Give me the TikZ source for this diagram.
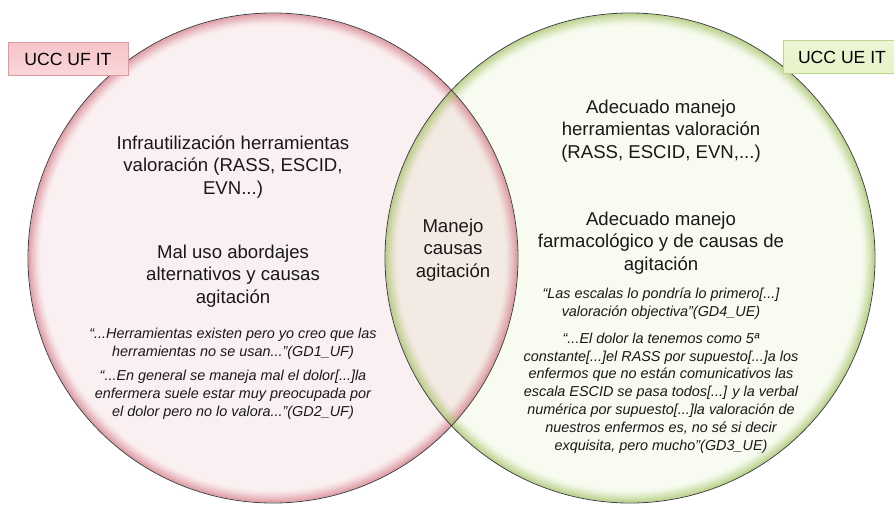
\documentclass[tikz,border=0pt]{standalone}
\usepackage{fontspec}
\setmainfont{Liberation Sans}
\begin{document}
\begin{tikzpicture}[x=1pt,y=-1pt]
\definecolor{lfill}{HTML}{FBF0F1}
\definecolor{rfill}{HTML}{F8FBF0}
\definecolor{lensfill}{HTML}{F4EAE4}
\definecolor{lrim}{HTML}{D47A86}
\definecolor{rrim}{HTML}{A2C262}
\definecolor{outl}{HTML}{404040}
\tikzset{
  maintext/.style={align=center, font=\fontsize{18.6}{22.6}\selectfont, text=black!90},
  quotetext/.style={align=center, font=\fontsize{14.4}{17.8}\selectfont\itshape, text=black!90},
  ucclabel/.style={draw, line width=0.8pt, minimum height=33pt, inner xsep=8pt, font=\fontsize{17.6}{20}\selectfont}
}
\useasboundingbox (0,0) rectangle (894,504);
\fill[white] (0,0) rectangle (894,504);
\coordinate (L) at (273,258);
\coordinate (R) at (630,258);
% fills
\fill[lfill] (L) ellipse [x radius=245pt, y radius=245pt];
\fill[rfill] (R) ellipse [x radius=245pt, y radius=245pt];
\begin{scope}
  \clip (L) ellipse [x radius=245pt, y radius=245pt];
  \fill[lensfill] (R) ellipse [x radius=245pt, y radius=245pt];
\end{scope}
% rims
\begin{scope}
  \clip (L) ellipse [x radius=245pt, y radius=245pt];
  \foreach \i [evaluate=\i as \op using 0.7*(1-\i/12)^1.5] in {1,...,11}
    \draw[lrim, line width=1.3pt, draw opacity=\op] (L) ellipse [x radius={245pt-\i*1.1pt}, y radius={245pt-\i*1.1pt}];
\end{scope}
\begin{scope}
  \clip (R) ellipse [x radius=245pt, y radius=245pt];
  \foreach \i [evaluate=\i as \op using 0.7*(1-\i/12)^1.5] in {1,...,11}
    \draw[rrim, line width=1.3pt, draw opacity=\op] (R) ellipse [x radius={245pt-\i*1.1pt}, y radius={245pt-\i*1.1pt}];
\end{scope}
% outlines
\draw[outl, line width=0.8pt] (L) ellipse [x radius=245pt, y radius=245pt];
\draw[outl, line width=0.8pt] (R) ellipse [x radius=245pt, y radius=245pt];
% labels
\node[ucclabel, draw={rgb,255:red,228;green,150;blue,158}, top color={rgb,255:red,247;green,196;blue,200}, bottom color={rgb,255:red,250;green,214;blue,217}, minimum width=120pt] (lab1) at (68,59) {UCC UF IT};
\node[ucclabel, draw={rgb,255:red,190;green,214;blue,140}, top color={rgb,255:red,236;green,246;blue,212}, bottom color={rgb,255:red,230;green,243;blue,200}, minimum width=118pt] (lab2) at (842,57) {UCC UE IT};
% left texts
\node[maintext] (l1) at (233,167) {Infrautilización herramientas\\valoración (RASS, ESCID,\\EVN...)};
\node[maintext] (l2) at (233,276) {Mal uso abordajes\\alternativos y causas\\agitación};
\node[quotetext] (lq1) at (233,344) {“...Herramientas existen pero yo creo que las\\herramientas no se usan...”(GD1\_UF)};
\node[quotetext] (lq2) at (233,395) {“...En general se maneja mal el dolor[...]la\\enfermera suele estar muy preocupada por\\el dolor pero no lo valora...”(GD2\_UF)};
% center
\node[maintext] (c) at (453,250) {Manejo\\causas\\agitación};
% right texts
\node[maintext] (r1) at (661,131) {Adecuado manejo\\herramientas valoración\\(RASS, ESCID, EVN,...)};
\node[maintext] (r2) at (661,243) {Adecuado manejo\\farmacológico y de causas de\\agitación};
\node[quotetext] (rq1) at (661,304) {“Las escalas lo pondría lo primero[...]\\valoración objectiva”(GD4\_UE)};
\node[quotetext] (rq2) at (661,393) {“...El dolor la tenemos como 5ª\\constante[...]el RASS por supuesto[...]a los\\enfermos que no están comunicativos las\\escala ESCID se pasa todos[...] y la verbal\\numérica por supuesto[...]la valoración de\\nuestros enfermos es, no sé si decir\\exquisita, pero mucho”(GD3\_UE)};
\end{tikzpicture}
\end{document}
